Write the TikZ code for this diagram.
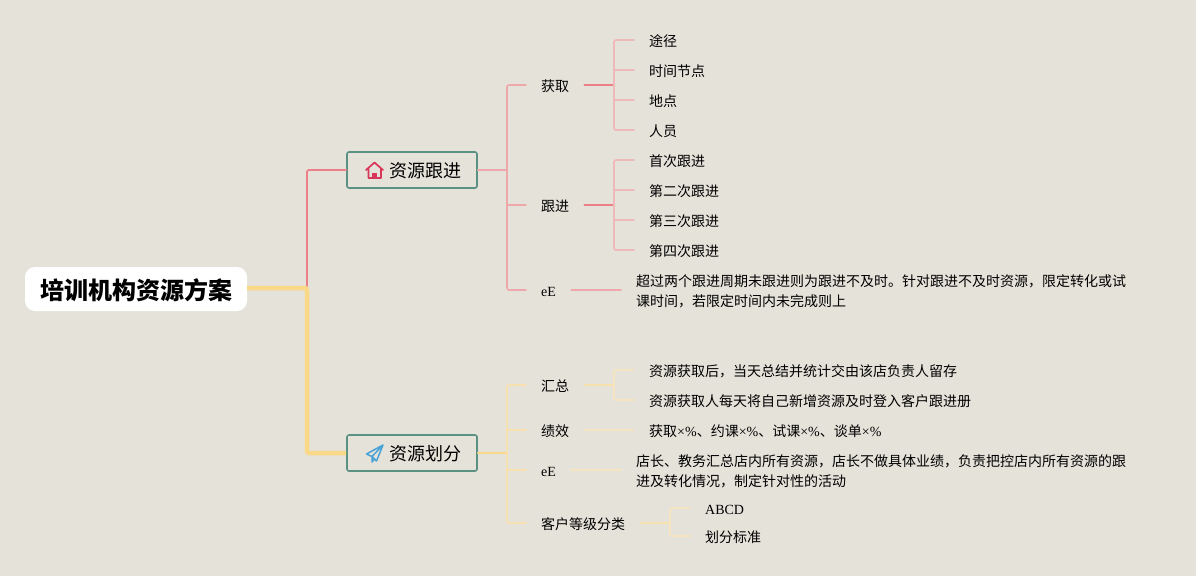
\documentclass[tikz,border=0pt]{standalone}
\usepackage{fontspec}
\setmainfont{Noto Sans CJK SC}
\newfontfamily\latinf{Liberation Serif}
\definecolor{paper}{HTML}{E5E2DA}
\definecolor{redmain}{HTML}{EC7F87}
\definecolor{redsub}{HTML}{EFA8A9}
\definecolor{redleaf}{HTML}{EFB9B8}
\definecolor{yelmain}{HTML}{F9D888}
\definecolor{yelsub}{HTML}{F8E0AE}
\definecolor{yelleaf}{HTML}{F6E4C0}
\definecolor{zoneline}{HTML}{5B9183}
\definecolor{homered}{HTML}{D9375A}
\definecolor{planeblue}{HTML}{4AA3D8}
\tikzset{
	rootbox/.style={fill=white,rounded corners=10pt,minimum width=222pt,minimum height=44pt,inner sep=0pt,text height=23pt,text depth=2.8pt,font=\fontsize{24}{28}\selectfont\bfseries},
	zonebox/.style={draw=zoneline,line width=1.6pt,rounded corners=2pt,minimum height=36pt,text width=98pt,inner xsep=16pt,inner ysep=0pt,align=right,text height=17pt,text depth=1.4pt,font=\fontsize{18}{22}\selectfont},
	item/.style={anchor=west,inner xsep=15pt,inner ysep=2pt,text height=14pt,text depth=1.4pt,font=\fontsize{14}{20}\selectfont,align=left},
	note/.style={item,text height=34.3pt,text depth=1.7pt},
	redlink/.style={draw=redmain,line width=1.8pt,rounded corners=2pt},
	redmid/.style={draw=redsub,line width=1.6pt,rounded corners=2pt},
	redend/.style={draw=redleaf,line width=1.7pt,rounded corners=2pt},
	yellink/.style={draw=yelmain,line width=4.5pt,rounded corners=2pt,line cap=butt},
	yelmid/.style={draw=yelsub,line width=1.6pt,rounded corners=2pt},
	yelend/.style={draw=yelleaf,line width=1.7pt,rounded corners=2pt}
}
\begin{document}
\begin{tikzpicture}[x=1pt,y=-1pt,line join=round,line cap=round]
	\fill[paper] (0,0) rectangle (1196,576);
	\useasboundingbox (0,0) rectangle (1196,576);
	\coordinate (rootfork) at (307,288);
	\coordinate (forkA) at (507,170);
	\coordinate (forkB) at (507,453);
	\coordinate (forkGet) at (614,85);
	\coordinate (forkFollow) at (614,205);
	\coordinate (forkSum) at (614,385);
	\coordinate (forkGrade) at (670,523);

	\node[rootbox] (root) at (136,289) {培训机构资源方案};
	\node[zonebox] (zoneA) at (412,170) {资源跟进};
	\node[zonebox] (zoneB) at (412,453) {资源划分};

	\node[item] (get) at (526,85) {获取};
	\node[item] (follow) at (526,205) {跟进};
	\node[item] (eeA) at (526,290) {\latinf eE};
	\node[item] (way) at (634,40) {途径};
	\node[item] (time) at (634,70) {时间节点};
	\node[item] (place) at (634,100) {地点};
	\node[item] (staff) at (634,130) {人员};
	\node[item] (first) at (634,160) {首次跟进};
	\node[item] (second) at (634,190) {第二次跟进};
	\node[item] (third) at (634,220) {第三次跟进};
	\node[item] (fourth) at (634,250) {第四次跟进};
	\node[note] (noteA) at (621,290) {超过两个跟进周期未跟进则为跟进不及时。针对跟进不及时资源，限定转化或试\\课时间，若限定时间内未完成则上};

	\node[item] (sum) at (526,385) {汇总};
	\node[item] (perf) at (526,430) {绩效};
	\node[item] (eeB) at (526,470) {\latinf eE};
	\node[item] (grade) at (526,523) {客户等级分类};
	\node[item] (sumA) at (634,370) {资源获取后，当天总结并统计交由该店负责人留存};
	\node[item] (sumB) at (634,400) {资源获取人每天将自己新增资源及时登入客户跟进册};
	\node[item] (perfA) at (634,430) {获取{\latinf ×\%}、约课{\latinf ×\%}、试课{\latinf ×\%}、谈单{\latinf ×\%}};
	\node[note] (noteB) at (621,470) {店长、教务汇总店内所有资源，店长不做具体业绩，负责把控店内所有资源的跟\\进及转化情况，制定针对性的活动};
	\node[item] (gradeA) at (690,508) {\latinf ABCD};
	\node[item] (gradeB) at (690,536) {划分标准};

	\draw[redlink] (rootfork) |- (zoneA.west);
	\draw[redlink] (forkGet) -- (get.east);
	\draw[redlink] (forkFollow) -- (follow.east);
	\draw[redmid] (zoneA.east) -- (forkA);
	\draw[redmid] (get.west) -| (forkA);
	\draw[redmid] (forkA) |- (follow.west);
	\draw[redmid] (forkA) |- (eeA.west);
	\draw[redmid] (eeA.east) -- (noteA.west);
	\draw[redend] (way.west) -| (forkGet);
	\draw[redend] (forkGet) |- (time.west);
	\draw[redend] (forkGet) |- (place.west);
	\draw[redend] (forkGet) |- (staff.west);
	\draw[redend] (first.west) -| (forkFollow);
	\draw[redend] (forkFollow) |- (second.west);
	\draw[redend] (forkFollow) |- (third.west);
	\draw[redend] (forkFollow) |- (fourth.west);

	\draw[yellink] (root.east |- rootfork) -- (rootfork) |- (zoneB.west);
	\draw[yelmain,line width=1.8pt] (zoneB.east) -- (forkB);
	\draw[yelmid] (sum.west) -| (forkB);
	\draw[yelmid] (forkB) |- (perf.west);
	\draw[yelmid] (forkB) |- (eeB.west);
	\draw[yelmid] (forkB) |- (grade.west);
	\draw[yelmid] (sum.east) -- (forkSum);
	\draw[yelmid] (grade.east) -- (forkGrade);
	\draw[yelend] (perf.east) -- (perfA.west);
	\draw[yelend] (eeB.east) -- (noteB.west);
	\draw[yelend] (sumA.west) -| (forkSum);
	\draw[yelend] (forkSum) |- (sumB.west);
	\draw[yelend] (gradeA.west) -| (forkGrade);
	\draw[yelend] (forkGrade) |- (gradeB.west);

	\draw[homered,line width=1.7pt] (366,170) -- (374.5,162.5) -- (383,170) (368.5,168.5) -- (368.5,178) -- (381,178) -- (381,168.5);
	\fill[homered] (372,178) -- (372,173) -- (377,173) -- (377,178) -- cycle;
	\draw[planeblue,line width=1.5pt] (383,445) -- (366.5,454) -- (372,456.5) -- (383,445) -- (376.5,461) -- (372,456.5) (372,456.5) -- (372,462) -- (374.5,459);
\end{tikzpicture}
\end{document}
